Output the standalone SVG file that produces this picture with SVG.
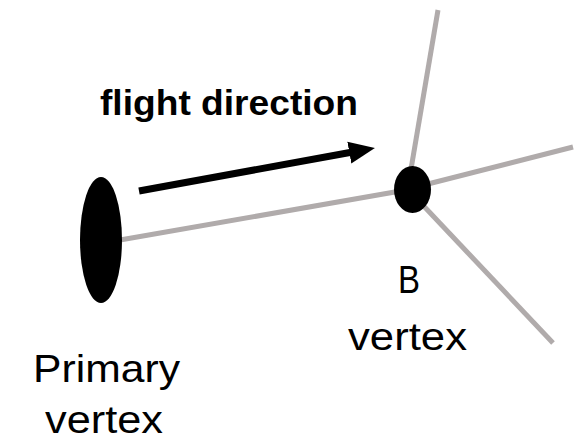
<svg xmlns="http://www.w3.org/2000/svg" width="588" height="442" viewBox="0 0 588 442">
<style>
.trk{stroke:#b0abab;stroke-width:5;fill:none;stroke-linecap:butt}
.lbl{font-family:"Liberation Sans",Arial,sans-serif;font-size:39px;fill:#000}
.bold{font-family:"Liberation Sans",Arial,sans-serif;font-size:35px;font-weight:bold;fill:#000}
</style>
<defs>
<marker id="ah" markerUnits="userSpaceOnUse" markerWidth="30" markerHeight="26" refX="2" refY="13" orient="auto">
<path d="M0,2 L26,13 L0,24 Z" fill="#000"/>
</marker>
</defs>
<g id="connectors">
<line class="trk" x1="120" y1="240" x2="412" y2="189"/>
<line class="trk" x1="410" y1="175" x2="438" y2="10"/>
<line class="trk" x1="420" y1="186" x2="573" y2="147"/>
<line class="trk" x1="418" y1="200" x2="553" y2="343"/>
<line id="flight-arrow" x1="139" y1="191" x2="351.3" y2="152.3" stroke="#000" stroke-width="7" marker-end="url(#ah)"/>
</g>
<g id="primary-vertex">
<ellipse cx="101" cy="240" rx="21" ry="63" fill="#000"/>
<text class="lbl" x="33" y="382" textLength="147" lengthAdjust="spacingAndGlyphs">Primary</text>
<text class="lbl" x="45" y="433" textLength="118" lengthAdjust="spacingAndGlyphs">vertex</text>
</g>
<g id="b-vertex">
<ellipse cx="412.5" cy="189.5" rx="18.5" ry="23.5" fill="#000"/>
<text class="lbl" x="398" y="293" textLength="22" lengthAdjust="spacingAndGlyphs">B</text>
<text class="lbl" x="348" y="350" textLength="119" lengthAdjust="spacingAndGlyphs">vertex</text>
</g>
<g id="flight-label">
<text class="bold" x="100" y="115" textLength="258" lengthAdjust="spacingAndGlyphs">flight direction</text>
</g>
</svg>
